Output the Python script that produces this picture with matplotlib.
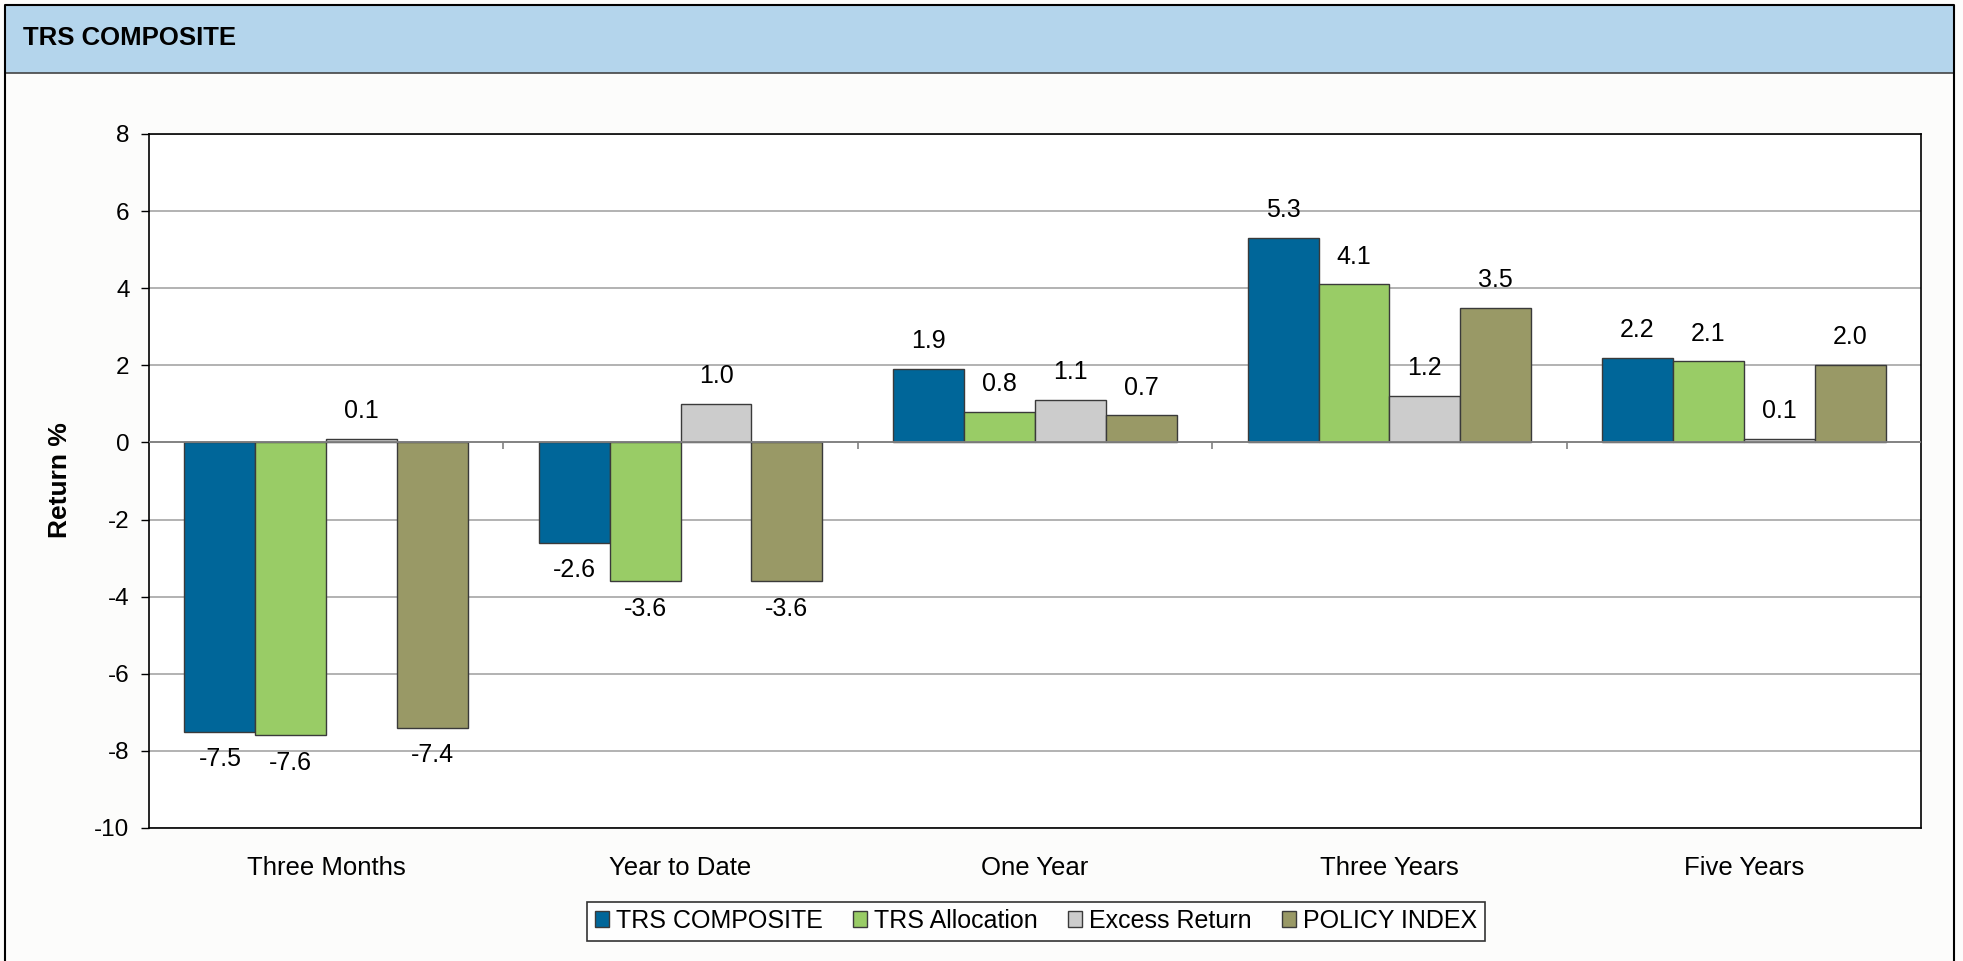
import matplotlib
matplotlib.use("Agg")
import matplotlib.pyplot as plt
import numpy as np
from matplotlib.patches import Rectangle
from matplotlib.lines import Line2D

# chart data
categories = ["Three Months", "Year to Date", "One Year", "Three Years", "Five Years"]
series_names = ["TRS COMPOSITE", "TRS Allocation", "Excess Return", "POLICY INDEX"]
trs_composite = [-7.5, -2.6, 1.9, 5.3, 2.2]
trs_allocation = [-7.6, -3.6, 0.8, 4.1, 2.1]
excess_return = [0.1, 1.0, 1.1, 1.2, 0.1]
policy_index = [-7.4, -3.6, 0.7, 3.5, 2.0]
y_ticks = [-10, -8, -6, -4, -2, 0, 2, 4, 6, 8]

colors = ["#006699", "#99CC66", "#CCCCCC", "#999966"]
plt.rcParams["font.family"] = ["Liberation Sans", "DejaVu Sans"]

W, H = 1963, 961
fig = plt.figure(figsize=(W / 100, H / 100), dpi=100)
fig.patch.set_facecolor("#FCFCFB")

# header band and outer frame
fig.add_artist(Rectangle((5 / W, 1 - 73 / H), 1949 / W, 68 / H, transform=fig.transFigure,
                         facecolor="#B4D5EC", edgecolor="none", zorder=0))
fig.add_artist(Line2D([5 / W, 1954 / W], [1 - 73 / H] * 2, transform=fig.transFigure, color="#444444", lw=1.2))
fig.add_artist(Line2D([5 / W, 5 / W, 1954 / W, 1954 / W], [0, 1 - 5 / H, 1 - 5 / H, 0],
                      transform=fig.transFigure, color="black", lw=1.5))
fig.text(23 / W, 1 - 38 / H, "TRS COMPOSITE", fontsize=18.5, fontweight="bold", va="center", ha="left")

ax = fig.add_axes([149 / W, 1 - 828 / H, (1921 - 149) / W, (828 - 134) / H])
ax.set_facecolor("white")

series = [trs_composite, trs_allocation, excess_return, policy_index]
x = np.arange(len(categories))
width = 0.2
for i, (name, vals) in enumerate(zip(series_names, series)):
    pos = x + (i - 1.5) * width
    ax.bar(pos, vals, width, color=colors[i], edgecolor="#3A3A3A", linewidth=1, label=name, zorder=3)
    for xp, v in zip(pos, vals):
        if v >= 0:
            ax.annotate(f"{v:.1f}", (xp, v), xytext=(0, 15), textcoords="offset points",
                        ha="center", va="baseline", fontsize=18)
        else:
            ax.annotate(f"{v:.1f}", (xp, v), xytext=(0, -11), textcoords="offset points",
                        ha="center", va="top", fontsize=18)

ax.set_xlim(-0.5, len(categories) - 0.5)
ax.set_ylim(-10, 8)
ax.set_yticks(y_ticks)
ax.set_yticklabels([str(t) for t in y_ticks])
ax.yaxis.grid(True, color="#A6A6A6", linewidth=1.2, zorder=0)
ax.set_axisbelow(True)
ax.axhline(0, color="#808080", linewidth=1.3, zorder=4)
ax.plot(np.arange(len(categories) - 1) + 0.5, np.zeros(len(categories) - 1), ls="none",
        marker=3, ms=5, mew=1.2, color="#808080", zorder=4)

ax.set_xticks(x)
ax.set_xticklabels(categories, fontsize=18.5)
ax.tick_params(axis="x", length=0, pad=20)
ax.tick_params(axis="y", length=6, width=1, pad=8, labelsize=17.5, direction="out")
for s in ax.spines.values():
    s.set_color("black")
    s.set_linewidth(1.2)

fig.text(60 / W, 1 - 480 / H, "Return %", rotation=90, fontsize=19, fontweight="bold", ha="center", va="center")

leg = fig.legend(loc="center", bbox_to_anchor=(1036 / W, 1 - 921 / H), ncol=4, fontsize=18,
                 frameon=True, fancybox=False, edgecolor="black", handlelength=0.55, handleheight=0.6,
                 handletextpad=0.3, columnspacing=1.2, borderpad=0.3)
leg.get_frame().set_linewidth(1.2)

fig.savefig("out.png", dpi=100, facecolor=fig.get_facecolor())
